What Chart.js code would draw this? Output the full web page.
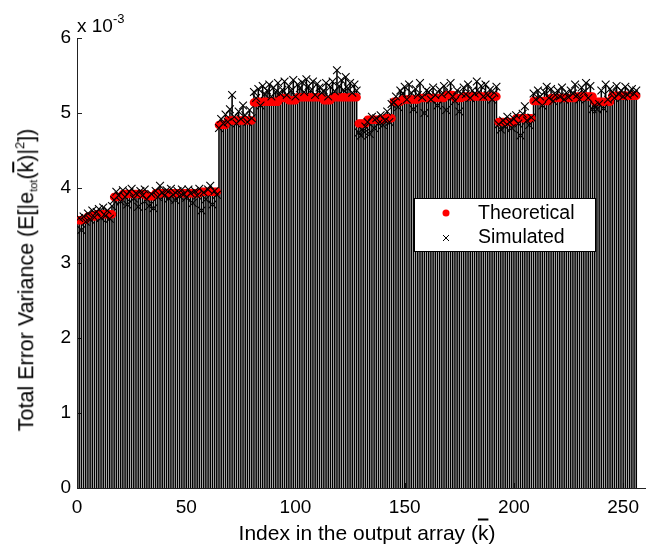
<!DOCTYPE html>
<html><head><meta charset="utf-8">
<script src="https://cdn.jsdelivr.net/npm/chart.js@4.4.1/dist/chart.umd.min.js"></script>
<style>
html,body{margin:0;padding:0;background:#fff;}
#wrap{position:relative;width:659px;height:547px;font-family:"Liberation Sans",Arial,sans-serif;color:#000;}
#c{position:absolute;left:0;top:0;}
.lab{position:absolute;white-space:nowrap;font-size:21px;line-height:1;}
.sub{font-size:11px;vertical-align:-4px;line-height:0;}
.sup{font-size:13px;vertical-align:9px;line-height:0;}
.ov{text-decoration:overline;}
</style></head>
<body><div id="wrap"><canvas id="c" width="659" height="547"></canvas>
<div class="lab" id="ylab" style="left:27px;top:280px;font-size:21.5px;transform:translate(-50%,-50%) rotate(-90deg);">Total Error Variance (E[|e<span class="sub">tot</span>(<span class="ov">k</span>)|<span class="sup">2</span>])</div>
<div class="lab" id="xlab" style="left:367px;top:532px;transform:translate(-50%,-50%);">Index in the output array (<span class="ov">k</span>)</div>
<div class="lab" id="expo" style="left:77px;top:16px;font-size:19px;">x 10<span class="sup">-3</span></div>
</div>
<script>
// values in units of 1e-3
const theoretical = [
3.57,3.57,3.58,3.58,3.62,3.62,3.63,3.62,3.65,3.65,3.65,3.65,3.65,3.65,3.65,3.65,
3.88,3.88,3.88,3.88,3.92,3.92,3.92,3.92,3.92,3.92,3.92,3.92,3.92,3.92,3.92,3.89,
3.89,3.89,3.89,3.93,3.93,3.93,3.93,3.93,3.93,3.93,3.93,3.93,3.93,3.93,3.93,3.93,
3.93,3.93,3.93,3.93,3.93,3.93,3.93,3.93,3.95,3.95,3.95,3.95,3.95,3.95,3.95,3.95,
4.84,4.84,4.84,4.84,4.90,4.90,4.90,4.90,4.90,4.90,4.90,4.90,4.90,4.90,4.90,4.90,
5.14,5.14,5.15,5.15,5.15,5.15,5.15,5.15,5.15,5.15,5.15,5.15,5.20,5.20,5.20,5.20,
5.17,5.17,5.17,5.17,5.21,5.21,5.21,5.21,5.21,5.21,5.21,5.21,5.21,5.21,5.21,5.21,
5.17,5.17,5.17,5.17,5.21,5.21,5.21,5.21,5.21,5.21,5.21,5.21,5.21,5.21,5.21,5.21,
4.86,4.86,4.86,4.86,4.91,4.91,4.91,4.91,4.91,4.91,4.91,4.91,4.93,4.93,4.93,4.93,
5.15,5.15,5.15,5.15,5.18,5.18,5.18,5.18,5.18,5.18,5.18,5.18,5.20,5.20,5.20,5.20,
5.20,5.20,5.20,5.20,5.20,5.20,5.20,5.20,5.24,5.24,5.24,5.24,5.20,5.20,5.20,5.20,
5.22,5.22,5.22,5.22,5.22,5.22,5.22,5.22,5.22,5.22,5.22,5.22,5.22,5.22,5.22,5.22,
4.88,4.88,4.88,4.88,4.88,4.88,4.88,4.88,4.93,4.93,4.93,4.93,4.93,4.93,4.93,4.93,
5.16,5.16,5.16,5.16,5.16,5.16,5.16,5.16,5.20,5.20,5.20,5.20,5.20,5.20,5.20,5.20,
5.20,5.20,5.20,5.20,5.22,5.22,5.22,5.22,5.22,5.22,5.22,5.22,5.15,5.15,5.15,5.15,
5.15,5.15,5.15,5.15,5.23,5.23,5.23,5.23,5.23,5.23,5.23,5.23,5.23,5.23,5.23,5.23
];
const simulated = [
3.60,3.44,3.62,3.55,3.66,3.58,3.70,3.61,3.68,3.72,3.60,3.74,3.63,3.70,3.59,3.76,
3.84,3.95,3.90,3.82,3.97,3.88,3.78,3.95,3.99,3.86,3.93,3.75,3.96,3.90,3.98,3.85,
3.76,3.92,3.73,3.96,3.88,4.03,3.94,3.90,3.97,3.86,3.99,3.91,3.84,3.96,3.89,3.98,
3.92,3.87,3.98,3.93,3.80,3.96,3.90,3.99,3.70,3.94,3.85,3.98,4.03,3.78,3.96,3.91,
4.80,4.92,4.86,4.98,4.88,5.05,5.24,4.95,4.86,5.02,4.92,5.10,4.97,4.88,5.04,4.93,
5.28,5.20,5.32,5.10,5.36,5.25,5.30,5.38,5.22,5.34,5.28,5.40,5.26,5.31,5.42,5.24,
5.36,5.30,5.44,5.22,5.38,5.33,5.41,5.28,5.45,5.36,5.30,5.42,5.24,5.39,5.34,5.27,
5.30,5.40,5.22,5.35,5.42,5.29,5.57,5.36,5.44,5.31,5.48,5.33,5.40,5.27,5.38,5.30,
4.74,4.70,4.76,4.82,4.88,4.72,4.95,4.80,4.93,4.86,4.97,4.84,4.90,5.02,4.88,5.12,
5.14,5.22,5.08,5.30,5.26,5.35,5.18,5.38,5.27,5.05,5.32,5.24,5.40,5.21,5.00,5.30,
5.28,5.18,5.34,5.24,5.10,5.31,5.25,5.36,5.04,5.28,5.40,5.22,5.16,5.30,5.02,5.26,
5.34,5.25,5.38,5.20,5.30,5.26,5.42,5.28,5.36,5.22,5.38,5.24,5.31,5.18,5.27,5.35,
4.85,4.78,4.90,4.82,4.95,4.88,4.80,4.92,4.97,4.86,4.70,4.99,5.09,4.90,4.84,4.94,
5.26,5.18,5.30,5.22,5.10,5.28,5.35,5.20,5.32,5.16,5.24,5.30,5.22,5.34,5.18,5.27,
5.21,5.30,5.26,5.38,5.24,5.18,5.34,5.28,5.40,5.20,5.36,5.05,5.10,5.05,5.12,5.30,
5.06,5.38,5.18,5.32,5.28,5.20,5.36,5.25,5.30,5.22,5.35,5.24,5.28,5.32,5.26,5.30
];
const indices = theoretical.map((_, i) => i + 1);
const xTickValues = [0, 50, 100, 150, 200, 250];
const yTickValues = [0, 1, 2, 3, 4, 5, 6];
const seriesNames = ['Theoretical', 'Simulated'];

const toXY = arr => arr.map((v, i) => ({x: indices[i], y: v}));
// each stem reaches the taller of the two markers at that index
const stemTops = theoretical.map((v, i) => Math.max(v, simulated[i]));

Chart.defaults.font.family = '"Liberation Sans", Arial, sans-serif';
Chart.defaults.font.size = 19;
Chart.defaults.color = '#000';

const innerTicks = {
  id: 'innerTicks',
  beforeDatasetsDraw(chart) {
    const {ctx, scales: {x, y}, chartArea} = chart;
    ctx.save();
    ctx.strokeStyle = '#222';
    ctx.lineWidth = 1;
    ctx.beginPath();
    yTickValues.forEach(v => {
      const py = Math.round(y.getPixelForValue(v)) + 0.5;
      ctx.moveTo(chartArea.left, py); ctx.lineTo(chartArea.left + 5, py);
    });
    xTickValues.forEach(v => {
      const px = Math.round(x.getPixelForValue(v)) + 0.5;
      ctx.moveTo(px, chartArea.bottom); ctx.lineTo(px, chartArea.bottom - 5);
    });
    ctx.stroke();
    ctx.restore();
  }
};

const boxLegend = {
  id: 'boxLegend',
  afterDraw(chart) {
    const {ctx} = chart;
    const L = 414.5, T = 198.5, W = 181, H = 53;
    ctx.save();
    ctx.fillStyle = '#fff';
    ctx.fillRect(L, T, W, H);
    ctx.strokeStyle = '#000';
    ctx.lineWidth = 1;
    ctx.strokeRect(L, T, W, H);
    ctx.fillStyle = '#ff0000';
    ctx.beginPath(); ctx.arc(446, 213, 3.5, 0, Math.PI * 2); ctx.fill();
    ctx.strokeStyle = '#000';
    ctx.beginPath();
    ctx.moveTo(443, 235); ctx.lineTo(449, 241);
    ctx.moveTo(449, 235); ctx.lineTo(443, 241);
    ctx.stroke();
    ctx.fillStyle = '#000';
    ctx.font = '19.5px "Liberation Sans", Arial, sans-serif';
    ctx.textBaseline = 'middle';
    ctx.textAlign = 'left';
    ctx.fillText(seriesNames[0], 478, 214);
    ctx.fillText(seriesNames[1], 478, 238);
    ctx.restore();
  }
};

new Chart(document.getElementById('c'), {
  type: 'bar',
  data: {
    datasets: [
      {type: 'line', label: seriesNames[1], data: toXY(simulated), showLine: false,
       pointStyle: 'crossRot', pointRadius: 5.5, pointBorderColor: '#000', pointBorderWidth: 1.1,
       pointBackgroundColor: '#000', order: 0},
      {type: 'line', label: seriesNames[0], data: toXY(theoretical), showLine: false,
       pointStyle: 'circle', pointRadius: 3.5, pointBorderColor: '#ff0000', pointBorderWidth: 1.5,
       pointBackgroundColor: '#ff0000', order: 1},
      {type: 'bar', label: 'stems', data: toXY(stemTops), backgroundColor: '#000',
       barThickness: 0.9, grouped: false, borderWidth: 0, order: 2}
    ]
  },
  options: {
    responsive: false,
    animation: false,
    devicePixelRatio: 1,
    events: [],
    layout: {padding: {top: 38, right: 14, left: 0, bottom: 0}},
    plugins: {legend: {display: false}, tooltip: {enabled: false}},
    scales: {
      x: {
        type: 'linear', min: 0, max: 260, offset: false,
        grid: {display: false, drawTicks: false},
        border: {display: true, color: '#222', width: 1},
        ticks: {stepSize: 50, padding: 8, maxRotation: 0, autoSkip: false},
        afterBuildTicks: s => { s.ticks = xTickValues.map(v => ({value: v})); },
        afterFit: s => { s.height = 59; }
      },
      y: {
        type: 'linear', min: 0, max: 6,
        grid: {display: false, drawTicks: false},
        border: {display: true, color: '#222', width: 1},
        ticks: {stepSize: 1, padding: 6},
        afterBuildTicks: s => { s.ticks = yTickValues.map(v => ({value: v})); },
        afterFit: s => { s.width = 77; }
      }
    }
  },
  plugins: [innerTicks, boxLegend]
});
</script>
</body></html>
